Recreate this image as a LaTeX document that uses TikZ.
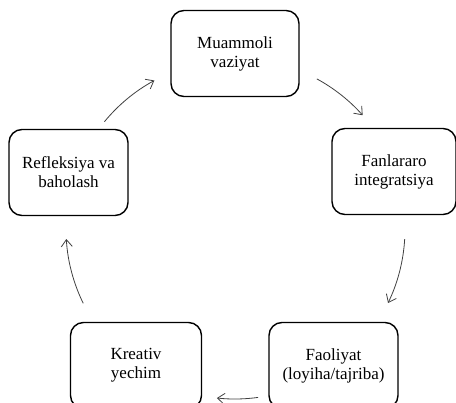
\documentclass[tikz,border=0pt]{standalone}
\usepackage{fontspec}
\setmainfont{Liberation Serif}
\usetikzlibrary{arrows.meta}
\tikzset{
  stagebox/.style={draw=black, line width=1.4pt, rounded corners=13pt, align=center,
    font=\fontsize{17}{19}\selectfont, inner sep=2pt, minimum height=86pt},
  cyclearrow/.style={draw=black!75, line width=0.8pt, -{Straight Barb[length=7pt,width=11pt]}}
}
\begin{document}
\begin{tikzpicture}[x=1pt,y=-1pt]
\useasboundingbox (0,0) rectangle (456,403);
\begin{scope}
\clip (0,0) rectangle (456,403);
\node[stagebox, minimum width=128pt] (top) at (235,53.5) {Muammoli\\vaziyat};
\node[stagebox, minimum width=124pt] (right) at (394,171.5) {Fanlararo\\integratsiya};
\node[stagebox, minimum width=129pt] (bright) at (333.5,365.5) {Faoliyat\\(loyiha/tajriba)};
\node[stagebox, minimum width=131pt] (bleft) at (136,365.5) {Kreativ\\yechim};
\node[stagebox, minimum width=119pt] (left) at (68.5,172.5) {Refleksiya va\\baholash};
\end{scope}
\coordinate (c) at (235,229);
\path (c) ++(61.4:171pt) coordinate (a1s);
\path (c) ++(-3.4:170pt) coordinate (a2s);
\path (c) ++(-82.2:170pt) coordinate (a3s);
\path (c) ++(206.1:169pt) coordinate (a4s);
\path (c) ++(140.6:169pt) coordinate (a5s);
\draw[cyclearrow] (a1s) arc[start angle=61.4, end angle=41.7, radius=171pt];
\draw[cyclearrow] (a2s) arc[start angle=-3.4, end angle=-25.8, radius=170pt];
\draw[cyclearrow] (a3s) arc[start angle=-82.2, end angle=-96.1, radius=170pt];
\draw[cyclearrow] (a4s) arc[start angle=206.1, end angle=183.4, radius=169pt];
\draw[cyclearrow] (a5s) arc[start angle=140.6, end angle=118.5, radius=169pt];
\end{tikzpicture}
\end{document}
